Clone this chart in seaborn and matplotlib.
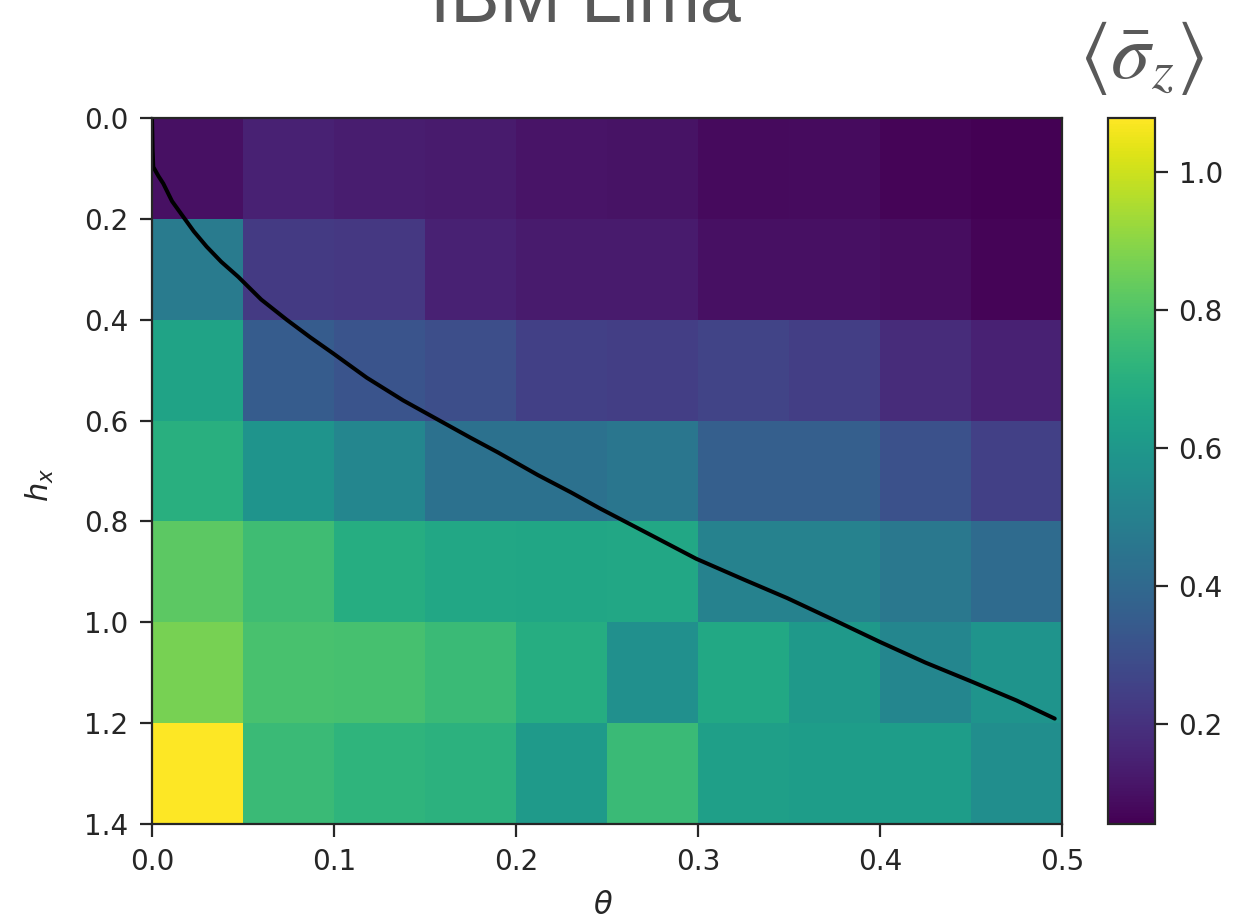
import numpy as np
import pandas as pd
import matplotlib
matplotlib.use("Agg")
import matplotlib.pyplot as plt
from matplotlib.transforms import Affine2D
import seaborn as sns

# Grid: cell left edges in theta, cell top edges in h_x
theta_cells = [0.00, 0.05, 0.10, 0.15, 0.20, 0.25, 0.30, 0.35, 0.40, 0.45]
hx_cells = [0.0, 0.2, 0.4, 0.6, 0.8, 1.0, 1.2]
d_theta = 0.05
d_hx = 0.2

# Measured <sigma_z> per (h_x row, theta column)
sz_row0 = [0.095, 0.147, 0.137, 0.130, 0.110, 0.106, 0.080, 0.085, 0.065, 0.055]
sz_row1 = [0.475, 0.230, 0.220, 0.150, 0.130, 0.130, 0.095, 0.095, 0.090, 0.065]
sz_row2 = [0.650, 0.350, 0.320, 0.295, 0.250, 0.240, 0.260, 0.240, 0.180, 0.150]
sz_row3 = [0.700, 0.585, 0.525, 0.435, 0.435, 0.455, 0.360, 0.360, 0.310, 0.250]
sz_row4 = [0.820, 0.760, 0.690, 0.665, 0.660, 0.665, 0.505, 0.505, 0.465, 0.410]
sz_row5 = [0.870, 0.780, 0.775, 0.750, 0.690, 0.565, 0.670, 0.605, 0.525, 0.585]
sz_row6 = [1.078, 0.750, 0.720, 0.710, 0.610, 0.750, 0.630, 0.620, 0.620, 0.555]

# Critical line h_c(theta)
curve_theta = [0.0, 0.0003, 0.0007, 0.0035, 0.0062, 0.011, 0.0172, 0.023, 0.030,
               0.038, 0.0474, 0.060, 0.074, 0.087, 0.0996, 0.118, 0.138, 0.151,
               0.175, 0.190, 0.212, 0.230, 0.246, 0.272, 0.299, 0.325, 0.349,
               0.375, 0.400, 0.425, 0.450, 0.475, 0.496]
curve_hx = [0.0, 0.060, 0.097, 0.115, 0.130, 0.165, 0.196, 0.225, 0.255,
            0.285, 0.315, 0.360, 0.400, 0.435, 0.467, 0.515, 0.560, 0.586,
            0.634, 0.663, 0.708, 0.742, 0.774, 0.823, 0.874, 0.915, 0.952,
            0.996, 1.039, 1.080, 1.117, 1.155, 1.191]

theta_ticks = [0.0, 0.1, 0.2, 0.3, 0.4, 0.5]
hx_ticks = [0.0, 0.2, 0.4, 0.6, 0.8, 1.0, 1.2, 1.4]
cbar_ticks = [0.2, 0.4, 0.6, 0.8, 1.0]

sns.set_style("ticks")
plt.rcParams["font.family"] = ["DejaVu Sans"]

grid = pd.DataFrame([sz_row0, sz_row1, sz_row2, sz_row3, sz_row4, sz_row5, sz_row6],
                    index=hx_cells, columns=theta_cells)

W, H = 1242, 919
fig = plt.figure(figsize=(W / 100, H / 100), dpi=100)
ax = fig.add_axes([152 / W, 1 - 824 / H, 910 / W, 706 / H])
cax = fig.add_axes([1108 / W, 1 - 824 / H, 47 / W, 706 / H])

sns.heatmap(grid, ax=ax, cbar_ax=cax, cmap="viridis",
            vmin=grid.values.min(), vmax=grid.values.max(),
            xticklabels=False, yticklabels=False, linewidths=0)

# Overlay the critical line in (theta, h_x) units
to_cells = Affine2D().scale(1 / d_theta, 1 / d_hx) + ax.transData
sns.lineplot(x=curve_theta, y=curve_hx, ax=ax, color="black", lw=2.9,
             sort=False, estimator=None, transform=to_cells)

ax.set_xlim(0, len(theta_cells))
ax.set_ylim(len(hx_cells), 0)

tick_color = "#262626"
ax.set_xticks([t / d_theta for t in theta_ticks])
ax.set_xticklabels([f"{t:.1f}" for t in theta_ticks], rotation=0)
ax.set_yticks([t / d_hx for t in hx_ticks])
ax.set_yticklabels([f"{t:.1f}" for t in hx_ticks], rotation=0)
ax.tick_params(axis="both", direction="out", length=9, width=1.6,
               labelsize=20, colors=tick_color, pad=8, left=True, bottom=True)
for s in ax.spines.values():
    s.set_visible(True)
    s.set_linewidth(1.6)
    s.set_color(tick_color)

# Axis titles
fig.text(603 / W, 1 - 905 / H, r"$\theta$", fontsize=22, color=tick_color,
         ha="center", va="center")
fig.text(40 / W, 1 - 485 / H, r"$h_x$", fontsize=22, color=tick_color,
         ha="center", va="center", rotation=90)

cbar = ax.collections[0].colorbar
cbar.set_ticks(cbar_ticks)
cbar.set_ticklabels([f"{t:.1f}" for t in cbar_ticks])
cbar.outline.set_visible(True)
cbar.outline.set_linewidth(1.6)
cbar.outline.set_edgecolor(tick_color)
cax.tick_params(direction="out", length=9, width=1.6, labelsize=20,
                colors=tick_color, pad=8, right=True)

fig.text(585 / W, 1 - 22 / H, "IBM Lima", family="Liberation Sans",
         fontsize=53, color="#595959", ha="center", va="baseline")
fig.text(1141 / W, 1 - 58 / H, r"$\langle\bar{\sigma}_z\rangle$",
         math_fontfamily="stix", fontsize=57, color="#595959",
         ha="center", va="center")

fig.savefig("out.png", dpi=100)
